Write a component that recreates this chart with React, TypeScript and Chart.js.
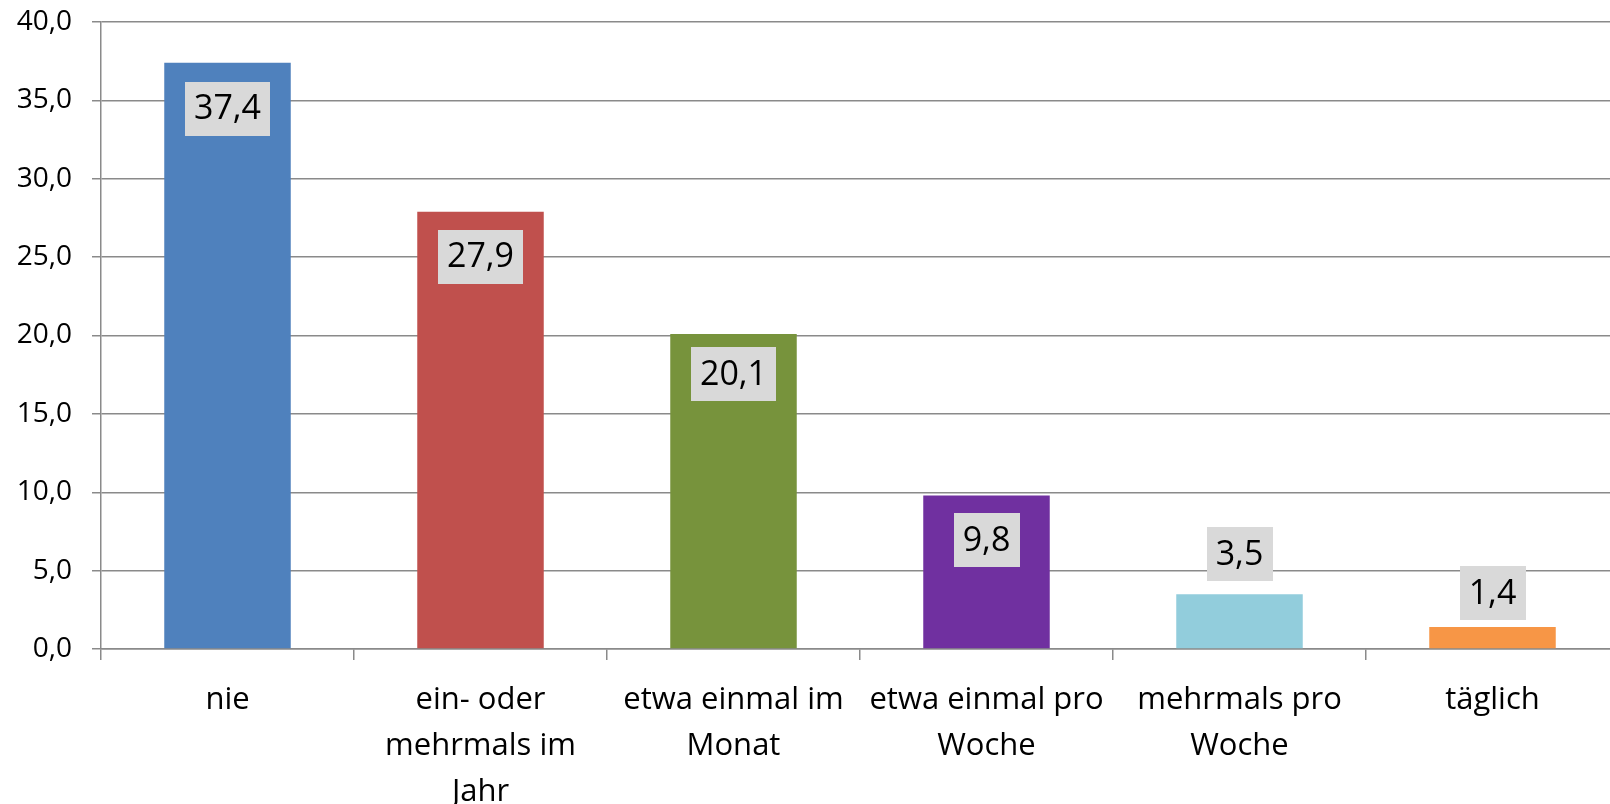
import React, { useEffect, useRef } from "react";
import { Chart, registerables } from "chart.js";

Chart.register(...registerables);

const categories: (string | string[])[] = [
  "nie",
  ["ein- oder", "mehrmals im", "Jahr"],
  ["etwa einmal im", "Monat"],
  ["etwa einmal pro", "Woche"],
  ["mehrmals pro", "Woche"],
  "täglich",
];
const values = [37.4, 27.9, 20.1, 9.8, 3.5, 1.4];
const barColors = ["#4F81BD", "#C0504D", "#77933C", "#7030A0", "#92CDDC", "#F79646"];
const yTickLabels = ["0,0", "5,0", "10,0", "15,0", "20,0", "25,0", "30,0", "35,0", "40,0"];
// label centre offset from bar top (px): positive = inside bar, negative = above
const labelOffsets = [46, 45, 40, 45, -40, -34];

const FONT = "'Open Sans', 'Noto Sans', sans-serif";
const GRID = "#8a8a8a";

const labelPlugin = {
  id: "boxLabels",
  afterDatasetsDraw(chart: any) {
    const ctx = chart.ctx;
    const meta = chart.getDatasetMeta(0);
    ctx.save();
    ctx.font = `34px ${FONT}`;
    ctx.textAlign = "center";
    ctx.textBaseline = "middle";
    meta.data.forEach((el: any, i: number) => {
      const txt = values[i].toFixed(1).replace(".", ",");
      const w = ctx.measureText(txt).width + 18;
      const h = 54;
      const cx = el.x;
      const cy = el.y + labelOffsets[i];
      ctx.fillStyle = "#D9D9D9";
      ctx.fillRect(Math.round(cx - w / 2), Math.round(cy - h / 2), Math.round(w), h);
      ctx.fillStyle = "#000000";
      ctx.fillText(txt, cx, cy + 1);
    });
    ctx.restore();
  },
};

export default function App() {
  const ref = useRef<HTMLCanvasElement | null>(null);
  useEffect(() => {
    if (!ref.current) return;
    const chart = new Chart(ref.current, {
      type: "bar",
      data: {
        labels: categories,
        datasets: [
          {
            data: values,
            backgroundColor: barColors,
            borderWidth: 0,
            categoryPercentage: 1,
            barPercentage: 0.5,
          },
        ],
      },
      options: {
        responsive: false,
        animation: false,
        devicePixelRatio: 1,
        layout: { padding: { top: 22, right: 11, left: 0, bottom: 0 } },
        plugins: { legend: { display: false }, tooltip: { enabled: false } },
        scales: {
          x: {
            afterFit: (s: any) => {
              s.height = 155;
            },
            grid: {
              drawOnChartArea: false,
              drawTicks: true,
              tickLength: 11,
              color: GRID,
              lineWidth: 1.5,
              offset: true,
            },
            border: { display: true, color: GRID, width: 1.5 },
            ticks: {
              color: "#000",
              font: { family: FONT, size: 31, lineHeight: 46 / 31 },
              padding: 17,
              maxRotation: 0,
              autoSkip: false,
            },
          },
          y: {
            min: 0,
            max: 40,
            afterFit: (s: any) => {
              s.width = 101;
              s.paddingTop = 0;
              s.paddingBottom = 0;
            },
            grid: { color: GRID, lineWidth: 1.5, tickLength: 9 },
            border: { display: true, color: GRID, width: 1.5 },
            ticks: {
              stepSize: 5,
              color: "#000",
              font: { family: FONT, size: 28 },
              padding: 20,
              callback: (_v: any, i: number) => yTickLabels[i],
            },
          },
        },
      },
      plugins: [labelPlugin],
    });
    return () => chart.destroy();
  }, []);
  return (
    <div style={{ position: "fixed", left: 0, top: 0, width: 1610, height: 804, overflow: "hidden", background: "#fff" }}>
      <canvas ref={ref} width={1630} height={804} style={{ width: 1630, height: 804, display: "block" }} />
    </div>
  );
}
